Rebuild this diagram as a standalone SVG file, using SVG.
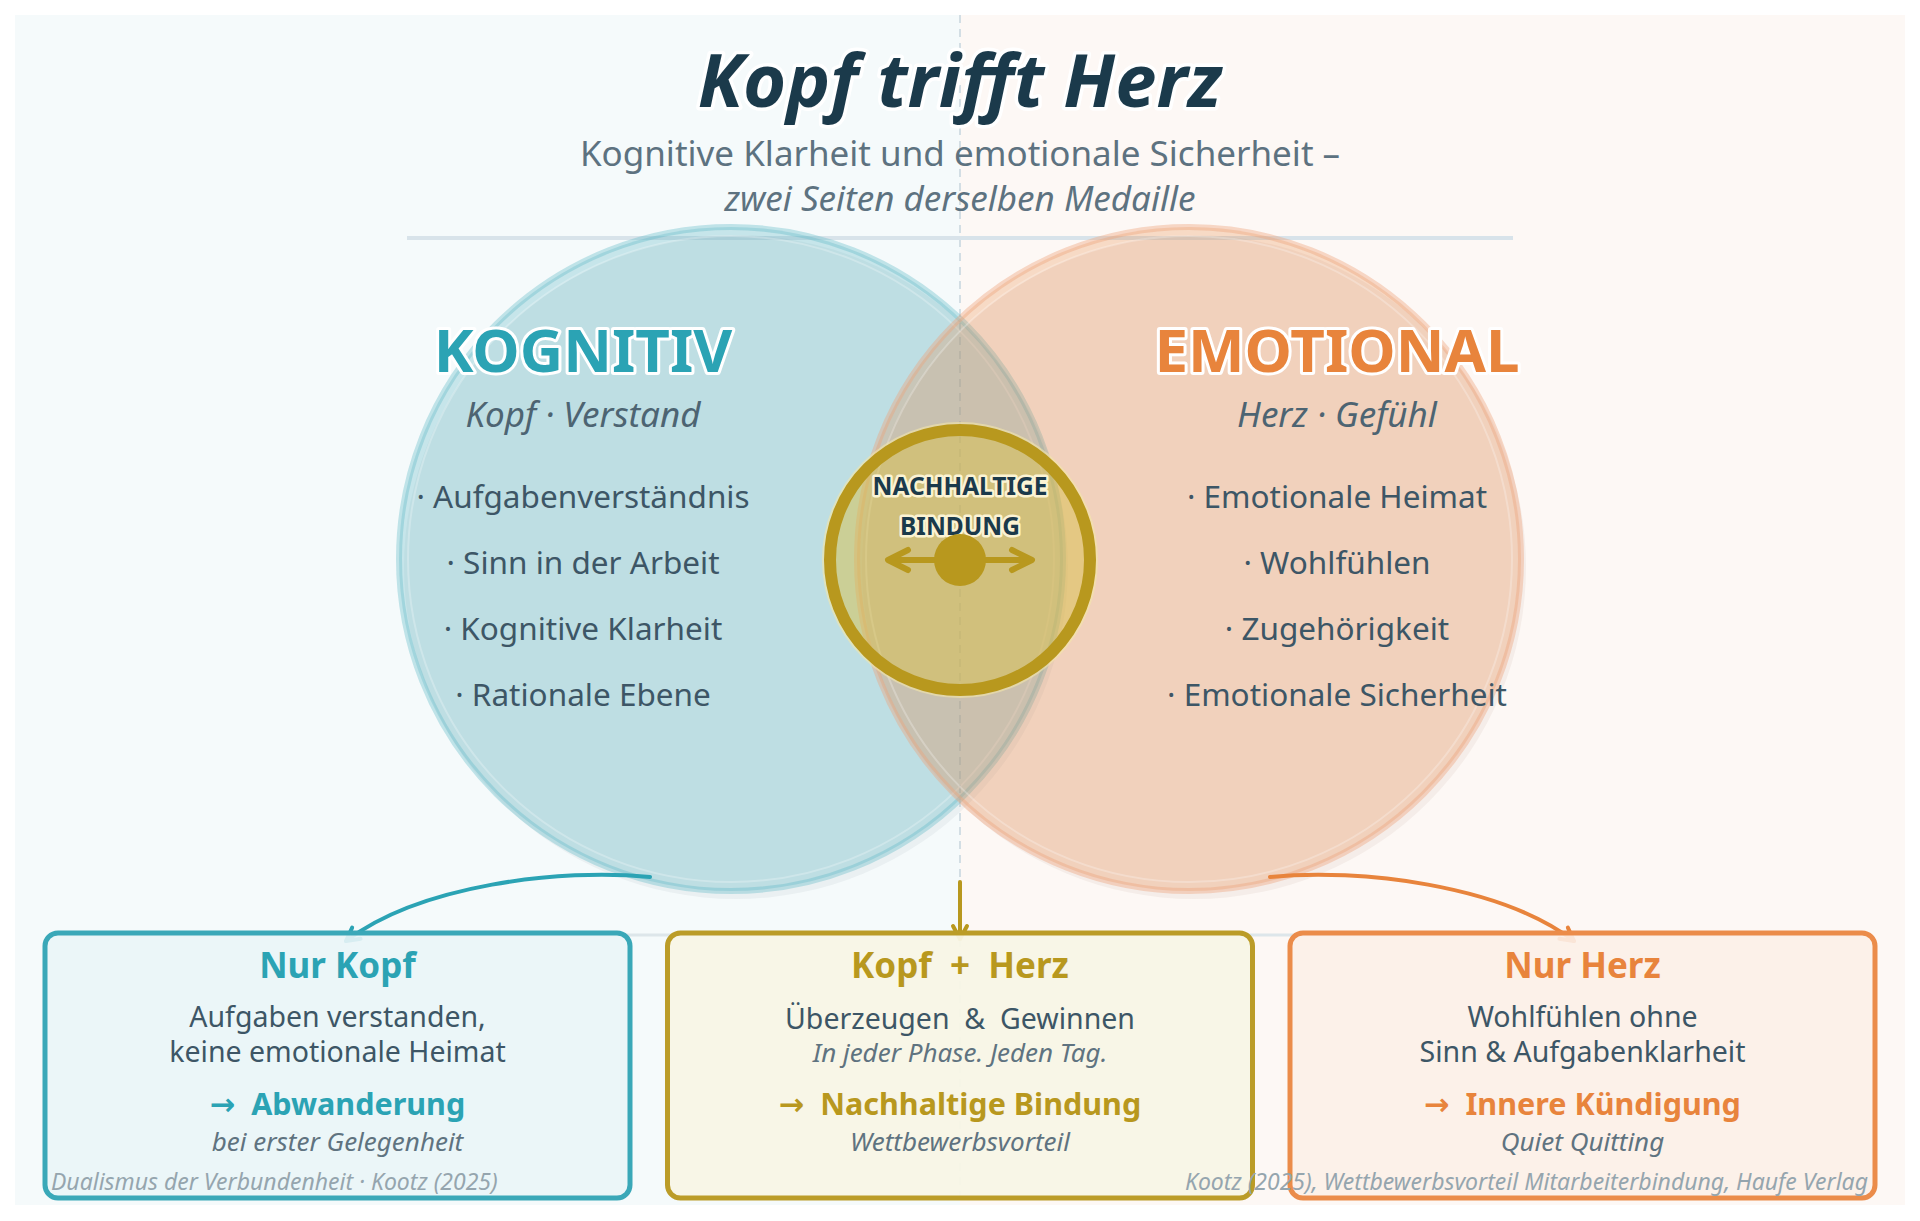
<svg xmlns="http://www.w3.org/2000/svg" width="1920" height="1221" viewBox="0 0 1920 1221">
<style>
text{font-family:"Noto Sans","Open Sans","DejaVu Sans",sans-serif;white-space:pre}
.c{text-anchor:middle}
.title{font-size:74px;font-weight:700;font-style:italic;fill:#1b3a4b;stroke:#ffffff;stroke-width:7px;paint-order:stroke;stroke-linejoin:round}
.sub{font-size:35px;fill:#5d7280}
.subi{font-size:35px;font-style:italic;fill:#5d7280}
.head{font-size:60px;font-weight:700;stroke:#ffffff;stroke-width:6px;paint-order:stroke;stroke-linejoin:round}
.tag{font-size:35px;font-style:italic;fill:#4d6472}
.item{font-size:31.5px;fill:#3d5666}
.center{font-size:24.5px;font-weight:700;fill:#1b3a4b;stroke:#fbf3d3;stroke-width:5px;paint-order:stroke;stroke-linejoin:round}
.bh{font-size:35px;font-weight:700}
.bt{font-size:28.5px;fill:#3d5666}
.bi{font-size:26px;font-style:italic;fill:#5f7380}
.br{font-size:30.5px;font-weight:700}
.foot{font-size:23px;font-style:italic;fill:#95a5ae}
.teal{fill:#2ba3b4}
.orange{fill:#e8843c}
.gold{fill:#b8981e}
.box{stroke-width:5}
</style>
<defs>
<marker id="mTeal" viewBox="0 0 20 20" refX="17" refY="10" markerWidth="20" markerHeight="20" markerUnits="userSpaceOnUse" orient="auto">
<path d="M4,3 L17,10 L4,17" fill="none" stroke="#2ba3b4" stroke-width="4" stroke-linecap="round" stroke-linejoin="round"/>
</marker>
<marker id="mOrange" viewBox="0 0 20 20" refX="17" refY="10" markerWidth="20" markerHeight="20" markerUnits="userSpaceOnUse" orient="auto">
<path d="M4,3 L17,10 L4,17" fill="none" stroke="#e8843c" stroke-width="4" stroke-linecap="round" stroke-linejoin="round"/>
</marker>
<marker id="mGold" viewBox="0 0 20 20" refX="17" refY="10" markerWidth="20" markerHeight="20" markerUnits="userSpaceOnUse" orient="auto">
<path d="M4,3 L17,10 L4,17" fill="none" stroke="#b8981e" stroke-width="4" stroke-linecap="round" stroke-linejoin="round"/>
</marker>
</defs>

<rect x="0" y="0" width="1920" height="1221" fill="#ffffff"/>
<rect x="15" y="15" width="945" height="1190" fill="#f5fafb"/>
<rect x="960" y="15" width="945" height="1190" fill="#fdf8f5"/>
<line x1="960" y1="15" x2="960" y2="1205" stroke="#d3dee4" stroke-width="2" stroke-dasharray="8 6"/>

<g id="title">
<text class="title c" x="960" y="107">Kopf trifft Herz</text>
<text class="sub c" x="960" y="166">Kognitive Klarheit und emotionale Sicherheit –</text>
<text class="subi c" x="960" y="211">zwei Seiten derselben Medaille</text>
<line x1="407" y1="238" x2="1513" y2="238" stroke="#d8e3ea" stroke-width="4"/>
</g>

<g id="kognitiv">
<circle cx="736" cy="567" r="332" fill="#9ab0b8" fill-opacity="0.12"/>
<circle cx="731" cy="559" r="332" fill="#3aa8b8" fill-opacity="0.25" stroke="#5db8c6" stroke-opacity="0.35" stroke-width="6"/>
<circle cx="731" cy="559" r="323" fill="none" stroke="#ffffff" stroke-opacity="0.25" stroke-width="2"/>
</g>
<g id="emotional">
<circle cx="1194" cy="567" r="332" fill="#c0a898" fill-opacity="0.12"/>
<circle cx="1189" cy="559" r="332" fill="#e8843c" fill-opacity="0.26" stroke="#eda27a" stroke-opacity="0.4" stroke-width="6"/>
<circle cx="1189" cy="559" r="323" fill="none" stroke="#ffffff" stroke-opacity="0.25" stroke-width="2"/>
</g>

<g id="kognitiv-text">
<text class="head teal c" x="583" y="372">KOGNITIV</text>
<text class="tag c" x="583" y="427">Kopf · Verstand</text>
<text class="item c" x="583" y="508">· Aufgabenverständnis</text>
<text class="item c" x="583" y="574">· Sinn in der Arbeit</text>
<text class="item c" x="583" y="640">· Kognitive Klarheit</text>
<text class="item c" x="583" y="706">· Rationale Ebene</text>
</g>
<g id="emotional-text">
<text class="head orange c" x="1337" y="372">EMOTIONAL</text>
<text class="tag c" x="1337" y="427">Herz · Gefühl</text>
<text class="item c" x="1337" y="508">· Emotionale Heimat</text>
<text class="item c" x="1337" y="574">· Wohlfühlen</text>
<text class="item c" x="1337" y="640">· Zugehörigkeit</text>
<text class="item c" x="1337" y="706">· Emotionale Sicherheit</text>
</g>

<g id="bindung">
<circle cx="960" cy="560" r="136" fill="none" stroke="#f3e6a8" stroke-opacity="0.6" stroke-width="4"/>
<circle cx="960" cy="560" r="130" fill="#d8bf4a" fill-opacity="0.5" stroke="#b8981e" stroke-width="12"/>
<text class="center c" x="960" y="495">NACHHALTIGE</text>
<text class="center c" x="960" y="535">BINDUNG</text>
<line x1="890" y1="560" x2="1030" y2="560" stroke="#b8981e" stroke-width="6" stroke-linecap="round"/>
<path d="M908,550 L888,560 L908,570 M1012,550 L1032,560 L1012,570" fill="none" stroke="#b8981e" stroke-width="6" stroke-linecap="round" stroke-linejoin="round"/>
<circle cx="960" cy="560" r="26" fill="#b8981e"/>
</g>

<line x1="60" y1="935" x2="1860" y2="935" stroke="#dde6ea" stroke-width="3"/>

<g id="connectors">
<path d="M650,877 C560,868 420,885 346,941" fill="none" stroke="#2ba3b4" stroke-width="4" stroke-linecap="round" marker-end="url(#mTeal)"/>
<path d="M1270,877 C1360,868 1500,885 1574,941" fill="none" stroke="#e8843c" stroke-width="4" stroke-linecap="round" marker-end="url(#mOrange)"/>
<path d="M960,882 L960,939" fill="none" stroke="#b8981e" stroke-width="4" stroke-linecap="round" marker-end="url(#mGold)"/>
</g>

<g id="box-kopf">
<rect class="box" x="45" y="933" width="585" height="265" rx="13" fill="#eaf5f7" fill-opacity="0.9" stroke="#3aa8b8"/>
<text class="bh teal c" x="337.5" y="978">Nur Kopf</text>
<text class="bt c" x="337.5" y="1027">Aufgaben verstanden,</text>
<text class="bt c" x="337.5" y="1062">keine emotionale Heimat</text>
<text class="br teal c" x="337.5" y="1115">→  Abwanderung</text>
<text class="bi c" x="337.5" y="1151">bei erster Gelegenheit</text>
</g>
<g id="box-beide">
<rect class="box" x="667.5" y="933" width="585" height="265" rx="13" fill="#f8f5e6" fill-opacity="0.95" stroke="#bb9c28"/>
<text class="bh gold c" x="960" y="978">Kopf  +  Herz</text>
<text class="bt c" x="960" y="1029">Überzeugen  &amp;  Gewinnen</text>
<text class="bi c" x="960" y="1062">In jeder Phase. Jeden Tag.</text>
<text class="br gold c" x="960" y="1115">→  Nachhaltige Bindung</text>
<text class="bi c" x="960" y="1151">Wettbewerbsvorteil</text>
</g>
<g id="box-herz">
<rect class="box" x="1290" y="933" width="585" height="265" rx="13" fill="#fcf0e8" fill-opacity="0.9" stroke="#eb8c4a"/>
<text class="bh orange c" x="1582.5" y="978">Nur Herz</text>
<text class="bt c" x="1582.5" y="1027">Wohlfühlen ohne</text>
<text class="bt c" x="1582.5" y="1062">Sinn &amp; Aufgabenklarheit</text>
<text class="br orange c" x="1582.5" y="1115">→  Innere Kündigung</text>
<text class="bi c" x="1582.5" y="1151">Quiet Quitting</text>
</g>

<g id="footer">
<text class="foot" x="51" y="1190">Dualismus der Verbundenheit · Kootz (2025)</text>
<text class="foot" x="1868" y="1190" text-anchor="end">Kootz (2025), Wettbewerbsvorteil Mitarbeiterbindung, Haufe Verlag</text>
</g>
</svg>
